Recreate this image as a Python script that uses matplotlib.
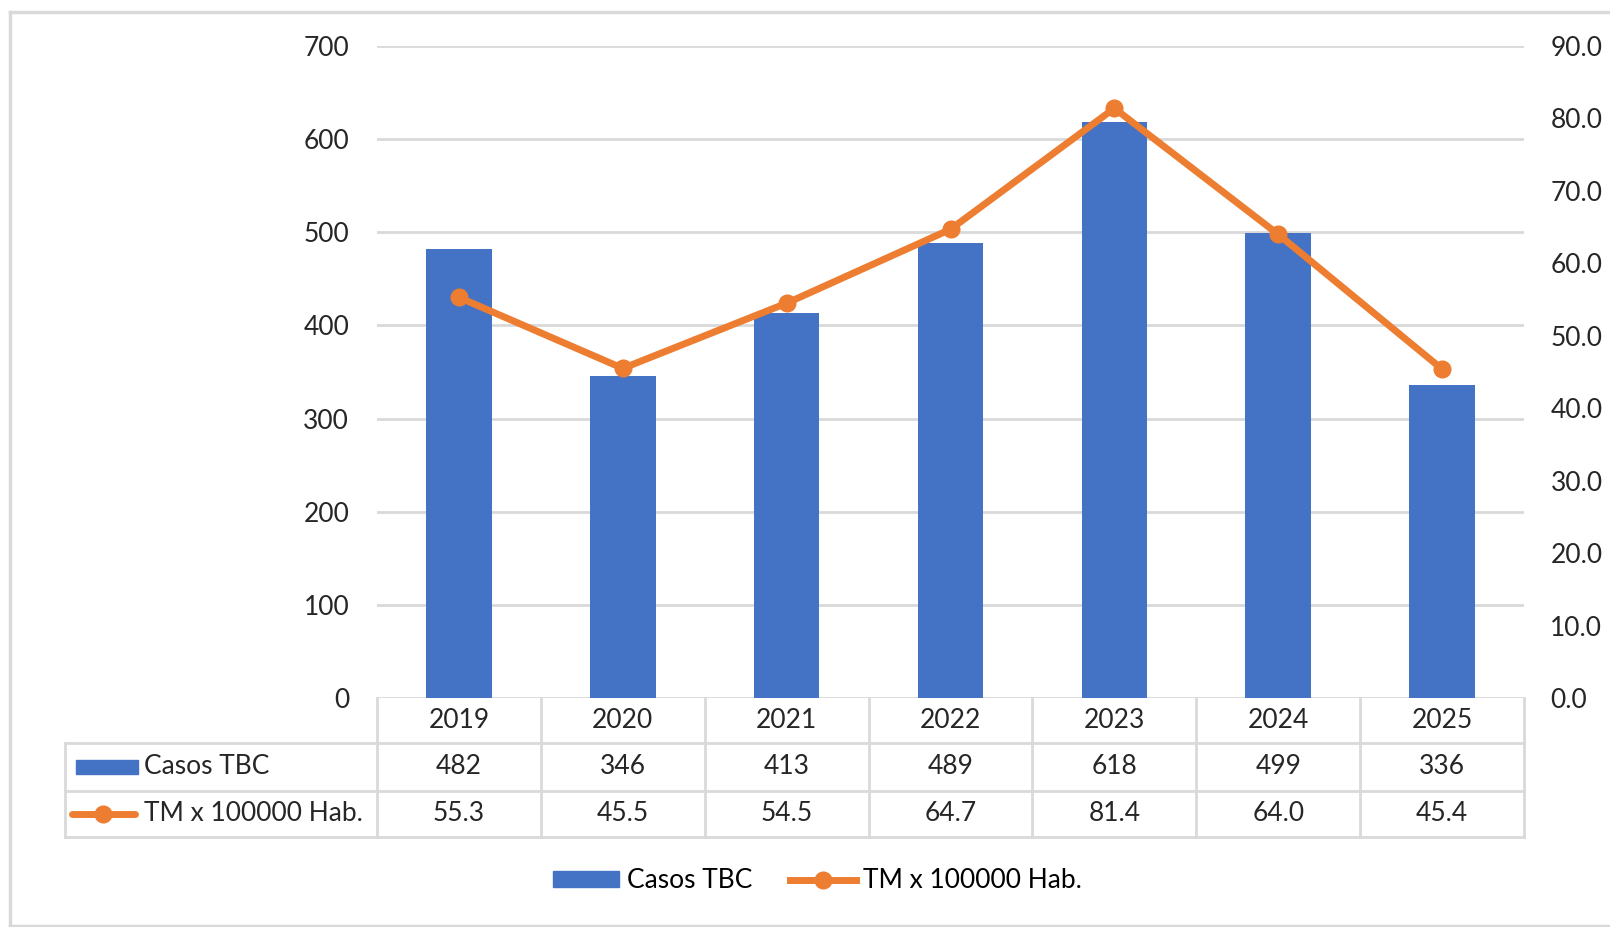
import matplotlib
matplotlib.use("Agg")
import matplotlib.pyplot as plt
from matplotlib.lines import Line2D
from matplotlib.patches import Patch

plt.rcParams['font.family'] = ['Lato', 'DejaVu Sans']

# data
years = ["2019", "2020", "2021", "2022", "2023", "2024", "2025"]
casos_tbc = [482, 346, 413, 489, 618, 499, 336]
tm_rate = [55.3, 45.5, 54.5, 64.7, 81.4, 64.0, 45.4]
left_ticks = [0, 100, 200, 300, 400, 500, 600, 700]
right_ticks = [0, 10, 20, 30, 40, 50, 60, 70, 80, 90]

BLUE = "#4472C4"
ORANGE = "#ED7D31"
GRID = "#D9D9D9"
TEXT = "#262626"
FS = 19

W, H = 1610, 927
fig = plt.figure(figsize=(W / 100, H / 100), dpi=100)

# plot area in pixel terms
left_px, right_px, top_px, bottom_px = 377, 1524, 46, 698
ax = fig.add_axes([left_px / W, 1 - bottom_px / H,
                   (right_px - left_px) / W, (bottom_px - top_px) / H])
ax2 = ax.twinx()

x = list(range(len(years)))
ax.bar(x, casos_tbc, width=0.40, color=BLUE, zorder=2)
ax.set_xlim(-0.5, len(years) - 0.5)
ax.set_ylim(0, 700)
ax.set_yticks(left_ticks)
ax.set_yticklabels([str(t) for t in left_ticks])
ax.yaxis.grid(True, color=GRID, linewidth=2, zorder=0)
ax.set_axisbelow(True)
ax.set_xticks([])
for s in ax.spines.values():
    s.set_visible(False)
ax.tick_params(axis='y', length=0, pad=20, labelsize=FS, labelcolor=TEXT)

ax2.plot(x, tm_rate, color=ORANGE, linewidth=5, marker='o', markersize=12,
         solid_capstyle='round', zorder=3)
ax2.set_ylim(0, 90)
ax2.set_yticks(right_ticks)
ax2.set_yticklabels([f"{t:.1f}" for t in right_ticks])
for s in ax2.spines.values():
    s.set_visible(False)
ax2.tick_params(axis='y', length=0, pad=19, labelsize=FS, labelcolor=TEXT)

# data table under the plot
axh = bottom_px - top_px
def ya(px):
    return (bottom_px - px) / axh

row_edges = [698, 743, 790.6, 837]
label_left = (64.7 - left_px) / (right_px - left_px)
xt = ax.get_xaxis_transform()
lkw = dict(color=GRID, linewidth=2, clip_on=False)

for y in row_edges[1:]:
    ax.plot([label_left, 1], [ya(y), ya(y)], transform=ax.transAxes, **lkw)
for i in range(len(years) + 1):
    xb = i - 0.5
    ax.plot([xb, xb], [ya(row_edges[0]), ya(row_edges[-1])], transform=xt, **lkw)
ax.plot([label_left, label_left], [ya(row_edges[1]), ya(row_edges[-1])],
        transform=ax.transAxes, **lkw)

row_mid = [(row_edges[k] + row_edges[k + 1]) / 2 for k in range(3)]
for i, yr in enumerate(years):
    ax.text(i, ya(row_mid[0]), yr, transform=xt, ha='center', va='center',
            fontsize=FS, color=TEXT)
    ax.text(i, ya(row_mid[1]), str(casos_tbc[i]), transform=xt, ha='center',
            va='center', fontsize=FS, color=TEXT)
    ax.text(i, ya(row_mid[2]), f"{tm_rate[i]:.1f}", transform=xt, ha='center',
            va='center', fontsize=FS, color=TEXT)

# legend keys inside the table
fig.patches.append(plt.Rectangle((76 / W, 1 - (row_mid[1] + 7) / H), 62 / W, 14 / H,
                                 transform=fig.transFigure, color=BLUE))
fig.lines.append(Line2D([72 / W, 135 / W], [1 - row_mid[2] / H] * 2,
                        transform=fig.transFigure, color=ORANGE, linewidth=5,
                        solid_capstyle='round'))
fig.lines.append(Line2D([103 / W], [1 - row_mid[2] / H], transform=fig.transFigure,
                        color=ORANGE, marker='o', markersize=12))
fig.text(144 / W, 1 - row_mid[1] / H, "Casos TBC", ha='left', va='center',
         fontsize=FS, color=TEXT)
fig.text(144 / W, 1 - row_mid[2] / H, "TM x 100000 Hab.", ha='left', va='center',
         fontsize=FS, color=TEXT)

# bottom legend
handles = [Patch(color=BLUE, label="Casos TBC"),
           Line2D([0], [0], color=ORANGE, linewidth=5, marker='o', markersize=12,
                  label="TM x 100000 Hab.")]
fig.legend(handles=handles, loc='center', bbox_to_anchor=(0.508, 1 - 881 / H),
           ncol=2, frameon=False, fontsize=FS, handlelength=2.5, handleheight=0.55,
           columnspacing=1.4, handletextpad=0.3)

# chart frame
fkw = dict(transform=fig.transFigure, color=GRID, linewidth=2.5)
fig.lines.append(Line2D([9.5 / W, 9.5 / W], [1 - 11.5 / H, 1 - 926 / H], **fkw))
fig.lines.append(Line2D([9.5 / W, 1], [1 - 11.5 / H, 1 - 11.5 / H], **fkw))
fig.lines.append(Line2D([9.5 / W, 1], [1 - 926 / H, 1 - 926 / H], **fkw))

fig.savefig("out.png", dpi=100, facecolor='white')
